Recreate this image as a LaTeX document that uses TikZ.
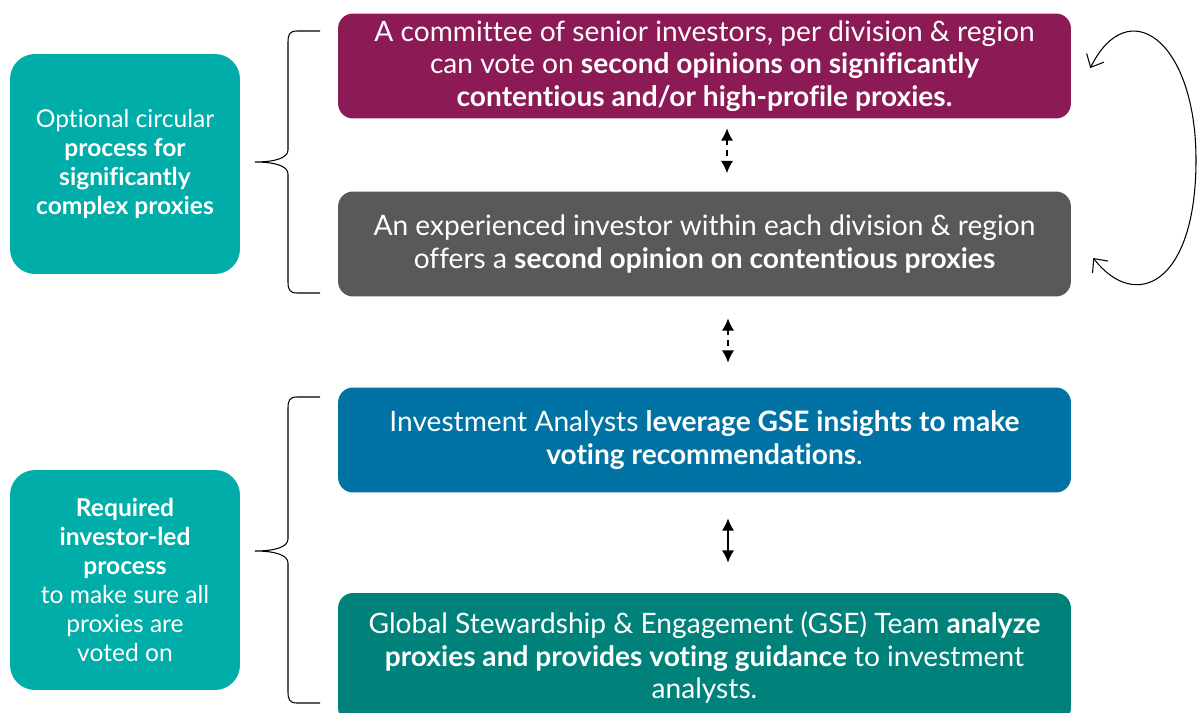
\documentclass[tikz,border=0pt]{standalone}
\usepackage{fontspec}
\setmainfont{Lato}[Ligatures={NoCommon}]
\usetikzlibrary{%
  arrows,
  arrows.meta,
  calc
}

\definecolor{plum}{RGB}{139,26,85}
\definecolor{slate}{RGB}{89,89,89}
\definecolor{ocean}{RGB}{0,114,163}
\definecolor{deepteal}{RGB}{0,130,122}
\definecolor{lightteal}{RGB}{0,173,168}

\begin{document}
\begin{tikzpicture}[x=0.02cm, y=-0.02cm,
    mainbox/.style={rounded corners=0.3cm, minimum width=14.66cm, minimum height=2.1cm,
      text=white, align=center, font=\fontsize{16}{18.5}\selectfont},
    sidebox/.style={rounded corners=0.5cm, minimum width=4.6cm, minimum height=4.4cm,
      fill=lightteal, text=white, align=center, font=\fontsize{14}{16.5}\selectfont},
    steplink/.style={{Latex[length=7pt,width=7pt]}-{Latex[length=7pt,width=7pt]}, line width=1pt}]
    \clip (0,0) rectangle (1197,713);

    % the four steps
    \node[mainbox, fill=plum] (committee) at (704.5,66)
      {A committee of senior investors, per division \& region\\
       can vote on \textbf{second opinions on significantly}\\
       \textbf{contentious and/or high-profile proxies.}};
    \node[mainbox, fill=slate] (investor) at (704.5,244)
      {An experienced investor within each division \& region\\
       offers a \textbf{second opinion on contentious proxies}};
    \node[mainbox, fill=ocean] (analysts) at (704.5,440)
      {Investment Analysts \textbf{leverage GSE insights to make}\\
       \textbf{voting recommendations}.};
    \node[mainbox, fill=deepteal, minimum height=2.6cm] (gse) at (704.5,658)
      {Global Stewardship \& Engagement (GSE) Team \textbf{analyze}\\
       \textbf{proxies and provides voting guidance} to investment\\
       analysts.};

    % the two groups
    \node[sidebox] (optional) at (125,164)
      {Optional circular\\ \textbf{process for}\\ \textbf{significantly}\\ \textbf{complex proxies}};
    \node[sidebox] (required) at (125,580)
      {\textbf{Required}\\ \textbf{investor-led}\\ \textbf{process}\\ to make sure all\\ proxies are\\ voted on};

    % links between steps
    \draw[steplink, dash pattern=on 3pt off 3pt]
      ($(committee.south)+(22.5,9.5)$) -- ($(investor.north)+(22.5,-18)$);
    \draw[steplink, dash pattern=on 3pt off 3pt]
      ($(investor.south)+(23.5,21.5)$) -- ($(analysts.north)+(23.5,-24.5)$);
    \draw[steplink]
      ($(analysts.south)+(23.5,25.5)$) -- ($(gse.north)+(23.5,-30)$);

    \draw[{Straight Barb[length=6pt,width=11pt]}-{Straight Barb[length=6pt,width=11pt]}, semithick]
      ($(committee.east)+(19,2)$) .. controls (1128,-8) and (1196,40) .. (1196,160)
      .. controls (1196,285) and (1135,312) .. ($(investor.east)+(22,14)$);

    % braces
    \draw[semithick] (320,31) -- (297,31) .. controls (290,31) and (288,34) .. (288,42) -- (288,150)
      .. controls (288,158) and (275,162) .. (255,162) .. controls (275,162) and (288,166) .. (288,174)
      -- (288,282) .. controls (288,290) and (290,293) .. (297,293) -- (320,293);
    \draw[semithick] (320,397) -- (297,397) .. controls (290,397) and (288,400) .. (288,408) -- (288,539)
      .. controls (288,547) and (275,551) .. (255,551) .. controls (275,551) and (288,555) .. (288,563)
      -- (288,692) .. controls (288,700) and (290,703) .. (297,703) -- (320,703);

  \end{tikzpicture}
\end{document}
